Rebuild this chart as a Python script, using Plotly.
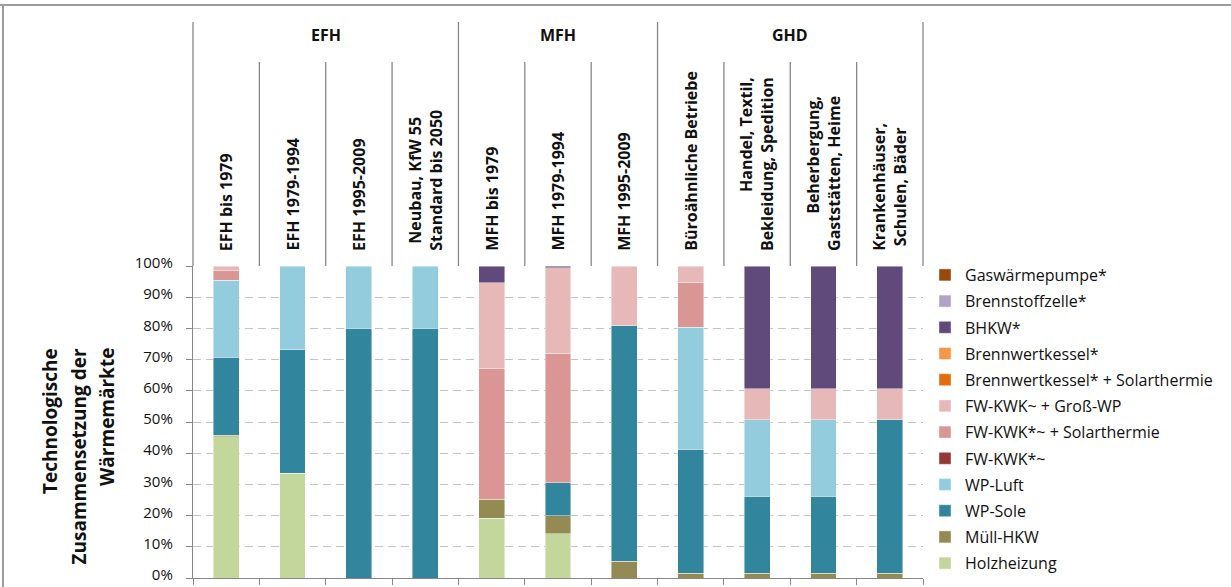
import plotly.graph_objects as go

# Building types (x categories) and their display labels
categories = [
    "EFH bis 1979", "EFH 1979-1994", "EFH 1995-2009",
    "Neubau, KfW 55 Standard bis 2050",
    "MFH bis 1979", "MFH 1979-1994", "MFH 1995-2009",
    "Büroähnliche Betriebe", "Handel, Textil, Bekleidung, Spedition",
    "Beherbergung, Gaststätten, Heime", "Krankenhäuser, Schulen, Bäder",
]
category_labels = [
    "EFH bis 1979", "EFH 1979-1994", "EFH 1995-2009",
    "Neubau, KfW 55<br>Standard bis 2050",
    "MFH bis 1979", "MFH 1979-1994", "MFH 1995-2009",
    "Büroähnliche Betriebe", "Handel, Textil,<br>Bekleidung, Spedition",
    "Beherbergung,<br>Gaststätten, Heime", "Krankenhäuser,<br>Schulen, Bäder",
]
label_align = ["center", "center", "center", "center", "center", "center",
               "center", "center", "right", "right", "center"]

# Sector groups: name and number of categories in each
groups = ["EFH", "MFH", "GHD"]
group_sizes = [4, 3, 4]

# Y axis ticks and title lines
y_tickvals = [0, 10, 20, 30, 40, 50, 60, 70, 80, 90, 100]
y_ticktext = ["0%", "10%", "20%", "30%", "40%", "50%",
              "60%", "70%", "80%", "90%", "100%"]
y_title_lines = ["Technologische", "Zusammensetzung der", "Wärmemärkte"]

# Shares of each technology in percent (stacked bottom to top)
holzheizung = [45.3, 33.5, 0, 0, 19.1, 14.2, 0, 0, 0, 0, 0]
muell_hkw = [0.5, 0, 0, 0, 6.2, 5.8, 5.4, 1.6, 1.6, 1.6, 1.6]
wp_sole = [25.0, 39.7, 80.0, 80.0, 0, 10.5, 75.5, 39.6, 24.6, 24.6, 49.2]
wp_luft = [24.7, 26.8, 20.0, 20.0, 0, 0, 0, 39.2, 24.6, 24.6, 0]
fw_kwk = [0, 0, 0, 0, 0, 0, 0, 0, 0, 0, 0]
fw_kwk_solar = [2.9, 0, 0, 0, 41.7, 41.6, 0, 14.4, 0, 0, 0]
fw_kwk_gross_wp = [1.6, 0, 0, 0, 27.6, 27.4, 19.1, 5.2, 9.8, 9.8, 9.8]
bwk_solar = [0, 0, 0, 0, 0, 0, 0, 0, 0, 0, 0]
bwk = [0, 0, 0, 0, 0, 0, 0, 0, 0, 0, 0]
bhkw = [0, 0, 0, 0, 5.4, 0.5, 0, 0, 39.4, 39.4, 39.4]
brennstoffzelle = [0, 0, 0, 0, 0, 0, 0, 0, 0, 0, 0]
gaswaermepumpe = [0, 0, 0, 0, 0, 0, 0, 0, 0, 0, 0]

series = [
    ("Holzheizung", holzheizung, "#C3D69B"),
    ("Müll-HKW", muell_hkw, "#948A54"),
    ("WP-Sole", wp_sole, "#31859C"),
    ("WP-Luft", wp_luft, "#93CDDD"),
    ("FW-KWK*~", fw_kwk, "#953735"),
    ("FW-KWK*~ + Solarthermie", fw_kwk_solar, "#D99694"),
    ("FW-KWK~ + Groß-WP", fw_kwk_gross_wp, "#E6B9B8"),
    ("Brennwertkessel* + Solarthermie", bwk_solar, "#E46C0A"),
    ("Brennwertkessel*", bwk, "#F79646"),
    ("BHKW*", bhkw, "#604A7B"),
    ("Brennstoffzelle*", brennstoffzelle, "#B3A2C7"),
    ("Gaswärmepumpe*", gaswaermepumpe, "#984807"),
]

FONT = "Open Sans"
GRAY = "#878787"

fig = go.Figure()
for i, (name, vals, color) in enumerate(series):
    fig.add_trace(go.Bar(
        x=categories,
        y=[v if v else None for v in vals],
        name=name,
        legendgroup=name,
        legendrank=1000 - i,  # top of the stack first in the legend
        marker=dict(color=color, line=dict(color="rgba(255,255,255,0.55)", width=0.8)),
        width=0.39,
        hoverinfo="skip",
    ))

# Plot-area geometry in pixels (used to place header decorations)
W, H = 1231, 587
L, R, T, B = 193, 923, 266, 578
pw, ph = R - L, B - T


def px_x(x):
    return (x - L) / pw


def px_y(y):
    return (B - y) / ph


shapes = []
annotations = []
n = len(categories)

# Header: short separators between categories, tall separators between groups
group_edges = [0]
for s in group_sizes:
    group_edges.append(group_edges[-1] + s)
for k in range(n + 1):
    tall = k in group_edges
    shapes.append(dict(
        type="line", xref="paper", yref="paper",
        x0=k / n, x1=k / n, y0=1, y1=px_y(22 if tall else 62),
        line=dict(color=GRAY, width=1.3),
    ))

# Group titles
for g, a, b in zip(groups, group_edges[:-1], group_edges[1:]):
    annotations.append(dict(
        text=f"<b>{g}</b>", xref="paper", yref="paper",
        x=(a + b) / 2 / n, y=px_y(35), xanchor="center", yanchor="middle",
        showarrow=False, font=dict(family=FONT, size=16, color="#111111"),
    ))

# Rotated category labels
for cat, lab, al in zip(categories, category_labels, label_align):
    annotations.append(dict(
        text=f"<b>{lab}</b>", xref="x", yref="paper",
        x=cat, y=px_y(253), xanchor="center", yanchor="bottom",
        textangle=-90, align=al, showarrow=False,
        font=dict(family=FONT, size=16, color="#111111"),
    ))

# Y axis title, one rotated line per annotation, tops aligned
for line, xp in zip(y_title_lines, [50, 78, 107]):
    annotations.append(dict(
        text=f"<b>{line}</b>",
        xref="paper", yref="paper", x=px_x(xp), y=px_y(346),
        xanchor="center", yanchor="top", textangle=-90, showarrow=False,
        font=dict(family=FONT, size=19, color="#111111"),
    ))

# Outer frame lines (top and left)
shapes.append(dict(type="line", xref="paper", yref="paper",
                   x0=px_x(0), x1=px_x(W), y0=px_y(5), y1=px_y(5),
                   line=dict(color="#9C9C9C", width=2)))
shapes.append(dict(type="line", xref="paper", yref="paper",
                   x0=px_x(3), x1=px_x(3), y0=px_y(5), y1=px_y(H),
                   line=dict(color="#9C9C9C", width=2)))

fig.update_layout(
    width=W, height=H, autosize=False,
    margin=dict(l=L, r=W - R, t=T, b=H - B, pad=0, autoexpand=False),
    paper_bgcolor="white", plot_bgcolor="white",
    barmode="stack", bargap=0.61,
    hovermode=False,
    font=dict(family=FONT, color="#111111"),
    showlegend=True,
    legend=dict(
        x=px_x(925), y=px_y(258), xanchor="left", yanchor="top",
        traceorder="grouped", tracegroupgap=2.4, maxheight=420,
        font=dict(family=FONT, size=16, color="#111111"),
        bgcolor="rgba(0,0,0,0)",
    ),
    xaxis=dict(
        type="category", tickson="boundaries", ticks="outside", ticklen=6,
        tickcolor=GRAY, showticklabels=False, showline=True, linecolor=GRAY,
        linewidth=1.3, showgrid=False, zeroline=False, fixedrange=True,
        automargin=False,
    ),
    yaxis=dict(
        range=[0, 100], tickmode="array", tickvals=y_tickvals, ticktext=y_ticktext,
        ticks="outside", ticklen=6, tickcolor=GRAY,
        ticklabelstandoff=10, ticklabelshift=-3, ticklabeloverflow="allow",
        showline=True, linecolor=GRAY, linewidth=1.3,
        showgrid=True, gridcolor="#C4C4C4", gridwidth=1.4, griddash="8px,5px",
        zeroline=False, fixedrange=True, automargin=False,
        tickfont=dict(family=FONT, size=15, color="#111111"),
    ),
    shapes=shapes,
    annotations=annotations,
)

fig.write_html("out.html")
